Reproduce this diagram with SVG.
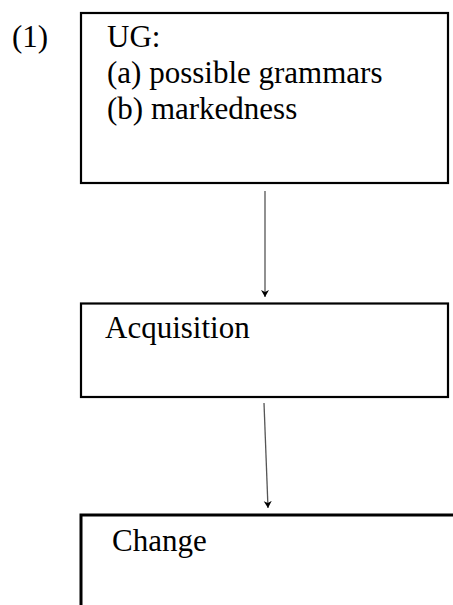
<svg xmlns="http://www.w3.org/2000/svg" width="453" height="605" viewBox="0 0 453 605">
<style>
  text { font-family: "Liberation Serif", "Times New Roman", serif; font-size: 31px; fill: #000; }
  .box { fill: #fff; stroke: #000; stroke-width: 2.2; }
  .conn { stroke: #555; stroke-width: 1.3; fill: none; }
</style>
<defs>
  <marker id="arr" markerUnits="userSpaceOnUse" markerWidth="8" markerHeight="10" refX="7" refY="4" orient="auto">
    <path d="M0,0 L7,4 L0,8 L2,4 Z" fill="#000"/>
  </marker>
</defs>
<rect width="453" height="605" fill="#fff"/>
<text id="label1" x="12" y="47">(1)</text>
<g id="node-ug">
  <rect class="box" x="81" y="13" width="367" height="170"/>
  <text x="107" y="47">UG:</text>
  <text x="107" y="83">(a) possible grammars</text>
  <text x="107" y="119">(b) markedness</text>
</g>
<g id="node-acquisition">
  <rect class="box" x="81" y="303.5" width="367" height="93.5"/>
  <text x="105" y="338">Acquisition</text>
</g>
<g id="node-change">
  <rect class="box" style="stroke-width:3" x="81" y="515" width="400" height="120"/>
  <text x="112" y="551">Change</text>
</g>
<g id="connectors">
  <line class="conn" x1="265" y1="191" x2="265" y2="297" marker-end="url(#arr)"/>
  <line class="conn" x1="264" y1="403" x2="268" y2="508" marker-end="url(#arr)"/>
</g>
</svg>
